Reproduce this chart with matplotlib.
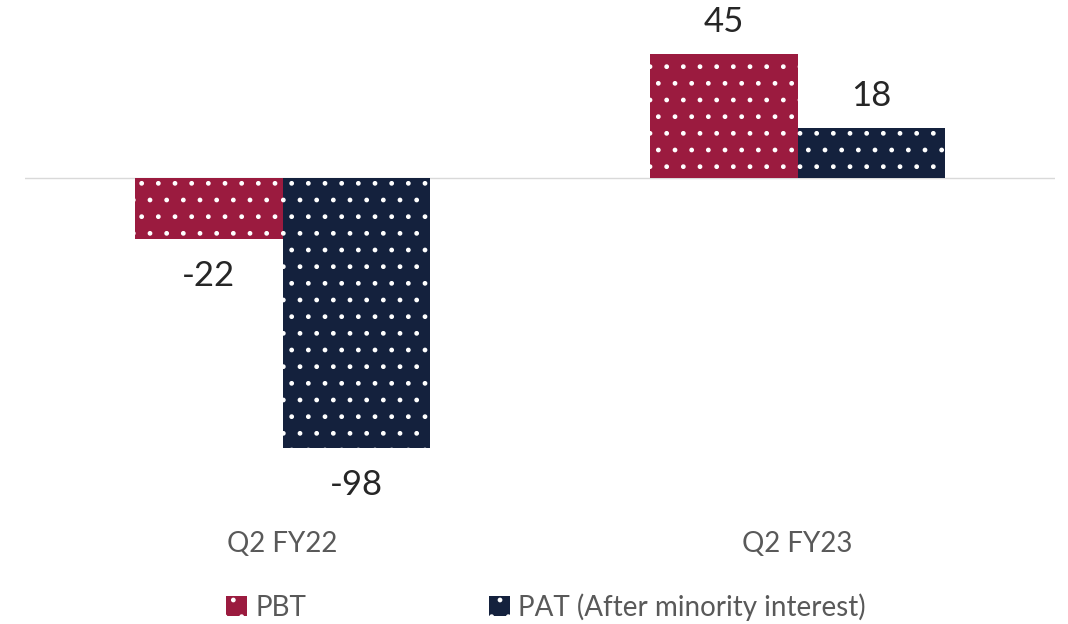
import matplotlib.pyplot as plt
import numpy as np

plt.rcParams['font.family'] = ['Lato', 'DejaVu Sans']
plt.rcParams['hatch.color'] = 'white'
plt.rcParams['hatch.linewidth'] = 1.0

# data
categories = ['Q2 FY22', 'Q2 FY23']
pbt = [-22, 45]
pat = [-98, 18]
series_names = ['PBT', 'PAT (After minority interest)']
colors = ['#9B1B3F', '#14213D']

fig = plt.figure(figsize=(10.68, 6.24), dpi=100)
ax = fig.add_axes([25 / 1068, 154 / 624, 1030 / 1068, 460 / 624])

x = np.arange(len(categories))
w = 0.287
b1 = ax.bar(x - w / 2, pbt, w, color=colors[0], hatch='.', linewidth=0, label=series_names[0])
b2 = ax.bar(x + w / 2, pat, w, color=colors[1], hatch='.', linewidth=0, label=series_names[1])

for bars, vals in [(b1, pbt), (b2, pat)]:
    for r, v in zip(bars, vals):
        off = 23 if v > 0 else -27
        ax.annotate(str(v), (r.get_x() + r.get_width() / 2, v), xytext=(0, off),
                    textcoords='offset points', ha='center', va='center',
                    fontsize=25, color='#262626')

ax.axhline(0, color='#D9D9D9', lw=1, zorder=0)
ax.set_xlim(-0.5, 1.5)
ax.set_ylim(-106, 61)
for s in ax.spines.values():
    s.set_visible(False)
ax.set_yticks([])
ax.set_xticks([])

for xi, c in zip(x, categories):
    ax.text(xi, -133, c, ha='center', va='center', fontsize=20, color='#595959')

fig.legend(loc='center', bbox_to_anchor=(546 / 1068, 17 / 624), ncol=2, frameon=False,
           fontsize=20, labelcolor='#595959', columnspacing=6.6, handlelength=0.75,
           handleheight=0.75, handletextpad=0.3)

fig.savefig('out.png', dpi=100)
